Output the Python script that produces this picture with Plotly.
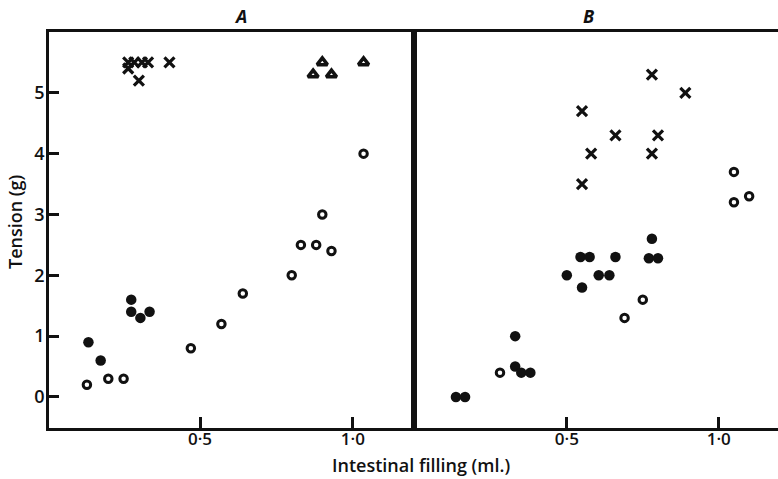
import plotly.graph_objects as go

# ---------------- data ----------------
# Panel A
a_cross_x = [0.265, 0.285, 0.31, 0.33, 0.265, 0.30, 0.40]
a_cross_y = [5.5, 5.5, 5.5, 5.5, 5.4, 5.2, 5.5]
a_tri_x = [0.90, 0.87, 0.93, 1.035]
a_tri_y = [5.5, 5.3, 5.3, 5.5]
a_open_x = [0.13, 0.20, 0.25, 0.47, 0.57, 0.64, 0.80, 0.83, 0.88, 0.93, 0.90, 1.035]
a_open_y = [0.2, 0.3, 0.3, 0.8, 1.2, 1.7, 2.0, 2.5, 2.5, 2.4, 3.0, 4.0]
a_fill_x = [0.135, 0.175, 0.275, 0.275, 0.305, 0.335]
a_fill_y = [0.9, 0.6, 1.6, 1.4, 1.3, 1.4]

# Panel B
b_cross_x = [0.78, 0.89, 0.55, 0.66, 0.80, 0.58, 0.78, 0.55]
b_cross_y = [5.3, 5.0, 4.7, 4.3, 4.3, 4.0, 4.0, 3.5]
b_open_x = [1.05, 1.05, 1.10, 0.28, 0.69, 0.75]
b_open_y = [3.7, 3.2, 3.3, 0.4, 1.3, 1.6]
b_fill_x = [0.135, 0.165, 0.33, 0.33, 0.35, 0.38, 0.545, 0.575, 0.66, 0.77, 0.80,
            0.50, 0.605, 0.64, 0.55, 0.78]
b_fill_y = [0.0, 0.0, 1.0, 0.5, 0.4, 0.4, 2.3, 2.3, 2.3, 2.28, 2.28,
            2.0, 2.0, 2.0, 1.8, 2.6]

y_ticks = [0, 1, 2, 3, 4, 5]
x_tickvals = [0.5, 1.0]
x_ticktext = ["0·5", "1·0"]

FONT = "Open Sans"
BLACK = "#111111"

fig = go.Figure()


def add(x, y, symbol, size, lw, xa, ya, fill=BLACK):
    fig.add_trace(go.Scatter(
        x=x, y=y, mode="markers", xaxis=xa, yaxis=ya, showlegend=False,
        hoverinfo="skip",
        marker=dict(symbol=symbol, size=size, color=fill,
                    line=dict(color=BLACK, width=lw))))


add(a_cross_x, a_cross_y, "x-thin-open", 10, 3.2, "x", "y")
add(a_tri_x, a_tri_y, "triangle-up-open", 9, 3.5, "x", "y")
add(a_open_x, a_open_y, "circle-open", 7.5, 3, "x", "y")
add(a_fill_x, a_fill_y, "circle", 10.5, 0, "x", "y")

add(b_cross_x, b_cross_y, "x-thin-open", 10, 3.2, "x2", "y2")
add(b_open_x, b_open_y, "circle-open", 7.5, 3, "x2", "y2")
add(b_fill_x, b_fill_y, "circle", 10.5, 0, "x2", "y2")

split = (414 - 49) / 729
axis_common = dict(showgrid=False, zeroline=False, showline=True,
                   linecolor=BLACK, linewidth=2.8)
xtick_font = dict(size=17, family=FONT, weight=600)
ytick_font = dict(size=18, family=FONT, weight=600)

fig.update_layout(
    width=778, height=479,
    margin=dict(l=49, r=0, t=32, b=51),
    plot_bgcolor="white", paper_bgcolor="white",
    font=dict(family=FONT, color=BLACK, size=17),
    xaxis=dict(domain=[0, split], range=[0.006, 1.2], anchor="y",
               tickvals=x_tickvals, ticktext=x_ticktext,
               ticks="inside", ticklen=11, tickwidth=2.6, tickcolor=BLACK,
               ticklabelstandoff=-6,
               mirror=True, tickfont=xtick_font, **axis_common),
    yaxis=dict(domain=[0, 1], range=[-0.51, 6.0], anchor="x",
               tickvals=y_ticks, ticks="inside", ticklen=10, tickwidth=2.6,
               tickcolor=BLACK, mirror=True, ticklabelstandoff=-2,
               tickfont=ytick_font, **axis_common),
    xaxis2=dict(domain=[split, 1], range=[-0.003, 1.195], anchor="y2",
                tickvals=x_tickvals, ticktext=x_ticktext,
                ticks="inside", ticklen=11, tickwidth=2.6, tickcolor=BLACK,
                ticklabelstandoff=-6,
                mirror=True, tickfont=xtick_font, **axis_common),
    yaxis2=dict(domain=[0, 1], range=[-0.51, 6.0], anchor="x2",
                showticklabels=False, ticks="", **axis_common),
    annotations=[
        dict(text="<b><i>A</i></b>", x=split / 2, y=1 + 16 / 396, xref="paper",
             yref="paper", yanchor="middle", showarrow=False, font=dict(size=18)),
        dict(text="<b><i>B</i></b>", x=(split + 1) / 2, y=1 + 16 / 396, xref="paper",
             yref="paper", yanchor="middle", showarrow=False, font=dict(size=18)),
        dict(text="Intestinal filling (ml.)", x=(421 - 49) / 729, y=(428 - 465) / 396,
             xref="paper", yref="paper", xanchor="center", yanchor="middle",
             showarrow=False, font=dict(size=18, weight=600)),
        dict(text="Tension (g)", x=(15 - 49) / 729, y=(428 - 222) / 396,
             xref="paper", yref="paper", xanchor="center", yanchor="middle",
             textangle=-90, showarrow=False, font=dict(size=18, weight=600)),
    ],
)

fig.write_html("out.html", config={"displayModeBar": False},
               post_script="document.body.style.margin='0px';")
